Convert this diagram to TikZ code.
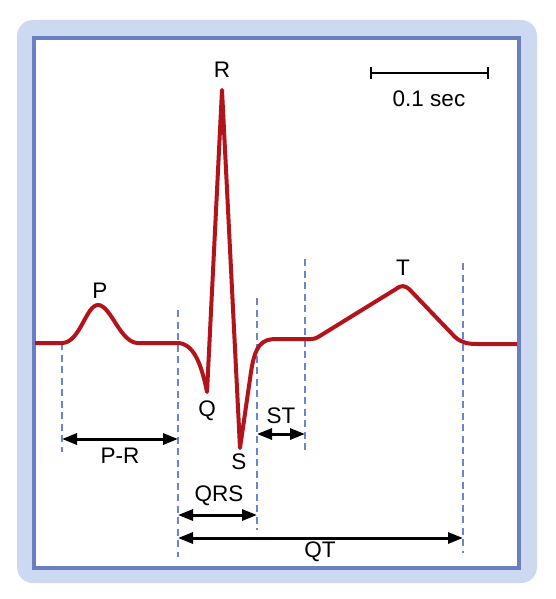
\documentclass[tikz,border=0pt]{standalone}
\usepackage{fontspec}
\setmainfont{Liberation Sans}
\usetikzlibrary{arrows.meta}

\definecolor{framefill}{HTML}{CDD9F1}
\definecolor{frameline}{HTML}{6A7EC2}
\definecolor{ecgred}{HTML}{B3141C}
\definecolor{guideblue}{HTML}{6A86D0}

\begin{document}
\begin{tikzpicture}[
    x=1pt, y=-1pt,
    wave/.style={draw=ecgred, line width=4pt, line join=round},
    guide/.style={draw=guideblue, line width=2.2pt, dash pattern=on 7pt off 4.5pt},
    span/.style={{Triangle[length=15pt,width=11pt]}-{Triangle[length=15pt,width=11pt]}, line width=3pt},
    lbl/.style={font=\fontsize{22.5}{26}\selectfont, inner sep=0pt}
  ]
  \useasboundingbox (0,0) rectangle (555,599);
  \fill[framefill, rounded corners=16pt] (17,20) rectangle (537,583);
  \draw[frameline, line width=3.8pt, fill=white] (34,38) rectangle (519,568);

  % guides
  \coordinate (g1t) at (62,343);  \coordinate (g1b) at (62,452);
  \coordinate (g2t) at (178,310); \coordinate (g2b) at (178,557);
  \coordinate (g3t) at (257,298); \coordinate (g3b) at (257,530);
  \coordinate (g4t) at (305,259); \coordinate (g4b) at (305,450);
  \coordinate (g5t) at (463,263); \coordinate (g5b) at (463,553);
  \foreach \g in {1,...,5}
    \draw[guide] (g\g t) -- (g\g b);

  % trace
  \draw[wave] (35,343) -- (62,343)
    .. controls (80,343) and (86,305) .. (98,305)
    .. controls (111,305) and (120,343) .. (138,343) -- (177,343)
    .. controls (193,343) and (201,362) .. (207,392)
    -- (222,90) -- (240,448) -- (251,372)
    .. controls (255,345) and (262,339) .. (276,339) -- (311,339)
    .. controls (316,339) and (318,337) .. (323,334)
    -- (396,289) .. controls (401,285) and (405,285) .. (410,290)
    -- (455,337) .. controls (462,343) and (468,344) .. (478,344) -- (517,344);

  \node[lbl] (p) at (100,291) {P};
  \node[lbl] (r) at (222,70) {R};
  \node[lbl] (q) at (207,411) {Q};
  \node[lbl] (s) at (239,462) {S};
  \node[lbl] (t) at (403,268) {T};

  % intervals
  \coordinate (prL) at (62,439);  \coordinate (prR) at (178,439);
  \coordinate (stL) at (257,434); \coordinate (stR) at (305,434);
  \coordinate (qrsL) at (178,515); \coordinate (qrsR) at (257,515);
  \coordinate (qtL) at (178,538); \coordinate (qtR) at (463,538);
  \draw[span] (prL) -- (prR);
  \draw[span] (stL) -- (stR);
  \draw[span] (qrsL) -- (qrsR);
  \draw[span] (qtL) -- (qtR);
  \node[lbl] (pr) at (120,456) {P-R};
  \node[lbl] (st) at (281,416) {ST};
  \node[lbl] (qrs) at (219,496) {QRS};
  \node[lbl] (qt) at (320,552) {QT};

  % scale bar
  \coordinate (barL) at (370,73); \coordinate (barR) at (489,73);
  \draw[line width=1.6pt, {Bar[width=12pt]}-{Bar[width=12pt]}] (barL) -- (barR);
  \node[lbl] (bar) at (429,99) {0.1 sec};
\end{tikzpicture}
\end{document}
